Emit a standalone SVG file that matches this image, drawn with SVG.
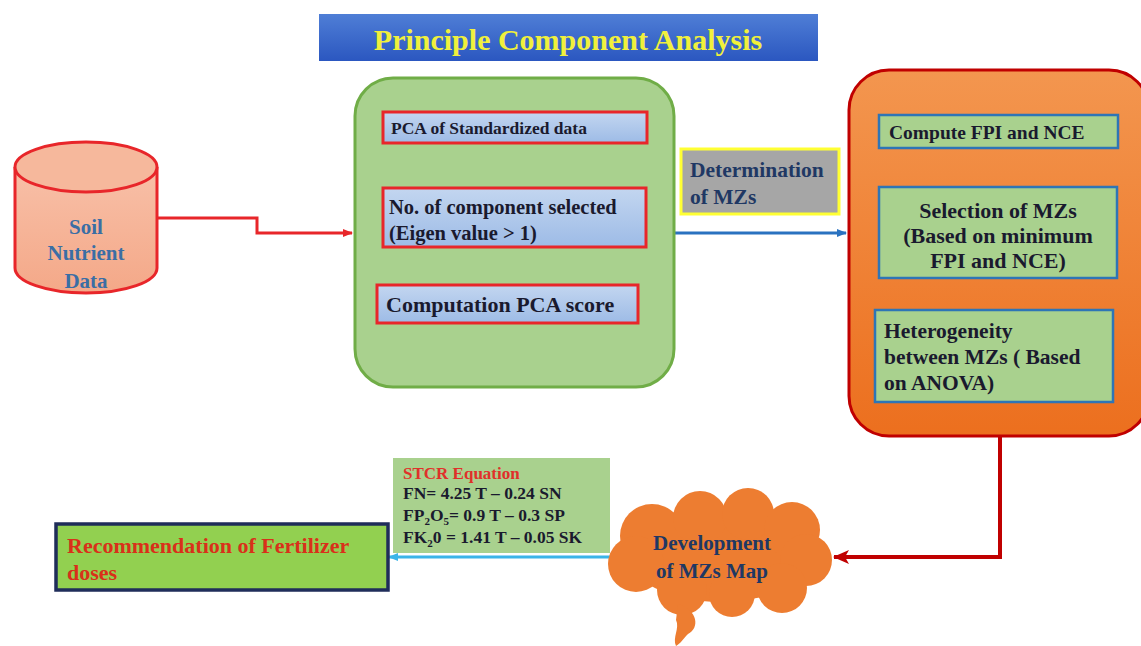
<svg xmlns="http://www.w3.org/2000/svg" width="1141" height="646" viewBox="0 0 1141 646">
<defs>
<linearGradient id="gTitle" x1="0" y1="0" x2="0" y2="1"><stop offset="0" stop-color="#4f7ed6"/><stop offset="1" stop-color="#2b57c0"/></linearGradient>
<linearGradient id="gBlue" x1="0" y1="0" x2="0" y2="1"><stop offset="0" stop-color="#c3d6f0"/><stop offset="1" stop-color="#9dbbe6"/></linearGradient>
<linearGradient id="gOrange" x1="0" y1="0" x2="0" y2="1"><stop offset="0" stop-color="#f3964f"/><stop offset="1" stop-color="#ec6f1e"/></linearGradient>
<linearGradient id="gCyl" x1="0" y1="0" x2="0" y2="1"><stop offset="0" stop-color="#f8c0a8"/><stop offset="1" stop-color="#f4a888"/></linearGradient>
<marker id="aRed" markerWidth="10" markerHeight="10" refX="9" refY="5" orient="auto" markerUnits="userSpaceOnUse"><path d="M0,1 L10,5 L0,9 Z" fill="#e8262a"/></marker>
<marker id="aBlue" markerWidth="10" markerHeight="10" refX="9" refY="5" orient="auto" markerUnits="userSpaceOnUse"><path d="M0,1 L10,5 L0,9 Z" fill="#2a72c0"/></marker>
<marker id="aDark" markerWidth="16" markerHeight="14" refX="15" refY="7" orient="auto" markerUnits="userSpaceOnUse"><path d="M0,0 L16,7 L0,14 L4,7 Z" fill="#c00000"/></marker>
<marker id="aCyan" markerWidth="10" markerHeight="10" refX="9" refY="5" orient="auto" markerUnits="userSpaceOnUse"><path d="M0,1 L10,5 L0,9 Z" fill="#3bb4e8"/></marker>
</defs>
<style>
text{font-family:"Liberation Serif","Times New Roman",serif;font-weight:bold;}
.inBlue{fill:url(#gBlue);stroke:#e8262a;stroke-width:3;}
.inGreen{fill:#a9d18e;stroke:#2e75b6;stroke-width:2.5;}
.dk{fill:#1a1a2e;}
.navy{fill:#1f3864;}
</style>
<rect width="1141" height="646" fill="#ffffff"/>

<g id="title">
<rect x="319" y="14" width="499" height="47" fill="url(#gTitle)"/>
<text x="568" y="50" text-anchor="middle" font-size="30" fill="#f0f03c">Principle Component Analysis</text>
</g>

<g id="connectors" fill="none">
<path d="M157,218 H257 V233 H352" stroke="#e8262a" stroke-width="3" marker-end="url(#aRed)"/>
<path d="M675,233 H846" stroke="#2a72c0" stroke-width="3" marker-end="url(#aBlue)"/>
<path d="M1000,437 V557 H834" stroke="#c00000" stroke-width="4" marker-end="url(#aDark)"/>
<path d="M612,557 H389" stroke="#3bb4e8" stroke-width="3" marker-end="url(#aCyan)"/>
</g>

<g id="soil">
<path d="M15,167 V268 A71,25 0 0 0 157,268 V167" fill="url(#gCyl)" stroke="#e8262a" stroke-width="3"/>
<ellipse cx="86" cy="167" rx="71" ry="25" fill="#f6b89c" stroke="#e8262a" stroke-width="3"/>
<text x="86" y="234" text-anchor="middle" font-size="21" fill="#3a6ea5">Soil</text>
<text x="86" y="260" text-anchor="middle" font-size="21" fill="#3a6ea5">Nutrient</text>
<text x="86" y="288" text-anchor="middle" font-size="21" fill="#3a6ea5">Data</text>
</g>

<g id="pca">
<rect x="355" y="78" width="319" height="309" rx="38" fill="#a9d18e" stroke="#70ad47" stroke-width="3"/>
<rect class="inBlue" x="383" y="112" width="264" height="31"/>
<text class="dk" x="391" y="134" font-size="17.5">PCA of Standardized data</text>
<rect class="inBlue" x="383" y="188" width="263" height="59"/>
<text class="dk" x="389" y="214" font-size="20.5">No. of component selected</text>
<text class="dk" x="389" y="240" font-size="20.5">(Eigen value &gt; 1)</text>
<rect class="inBlue" x="377" y="285" width="261" height="38"/>
<text class="dk" x="386" y="312" font-size="22">Computation  PCA score</text>
</g>

<g id="determination">
<rect x="681" y="149" width="158" height="65" fill="#a6a6a6" stroke="#ffff33" stroke-width="3"/>
<text class="navy" x="690" y="177" font-size="21.5">Determination</text>
<text class="navy" x="690" y="204" font-size="21.5">of MZs</text>
</g>

<g id="mz">
<rect x="849" y="70" width="300" height="366" rx="40" fill="url(#gOrange)" stroke="#c00000" stroke-width="3"/>
<rect class="inGreen" x="879" y="115" width="239" height="33"/>
<text class="dk" x="889" y="139" font-size="19.5">Compute FPI and NCE</text>
<rect class="inGreen" x="879" y="187" width="238" height="91"/>
<text class="dk" x="998" y="218" text-anchor="middle" font-size="22">Selection of MZs</text>
<text class="dk" x="998" y="243" text-anchor="middle" font-size="22">(Based on minimum</text>
<text class="dk" x="998" y="268" text-anchor="middle" font-size="22">FPI and NCE)</text>
<rect class="inGreen" x="875" y="310" width="238" height="92"/>
<text class="dk" x="884" y="338" font-size="21.5">Heterogeneity</text>
<text class="dk" x="884" y="364" font-size="21.5">between MZs ( Based</text>
<text class="dk" x="884" y="390" font-size="21.5">on ANOVA)</text>
</g>

<g id="stcr">
<rect x="393" y="458" width="217" height="95" fill="#a9d18e"/>
<text x="403" y="479" font-size="17" fill="#e0302a">STCR Equation</text>
<text class="dk" x="403" y="499" font-size="17.5">FN= 4.25 T – 0.24 SN</text>
<text class="dk" x="403" y="521" font-size="17.5">FP<tspan font-size="11" dy="4">2</tspan><tspan dy="-4">O</tspan><tspan font-size="11" dy="4">5</tspan><tspan dy="-4">= 0.9 T – 0.3 SP</tspan></text>
<text class="dk" x="403" y="543" font-size="17.5">FK<tspan font-size="11" dy="4">2</tspan><tspan dy="-4">0 = 1.41 T – 0.05 SK</tspan></text>
</g>

<g id="cloud" fill="#ed7d31">
<ellipse cx="720" cy="554" rx="92" ry="48"/>
<circle cx="652" cy="536" r="32"/>
<circle cx="700" cy="518" r="27"/>
<circle cx="748" cy="514" r="26"/>
<circle cx="792" cy="530" r="28"/>
<circle cx="806" cy="560" r="26"/>
<circle cx="782" cy="588" r="25"/>
<circle cx="732" cy="594" r="23"/>
<circle cx="682" cy="590" r="25"/>
<circle cx="636" cy="564" r="28"/>
<path d="M678,604 C698,610 700,628 688,634 C684,638 680,644 676,646 C672,638 680,628 676,620 Z"/>
<text class="navy" x="712" y="550" text-anchor="middle" font-size="21">Development</text>
<text class="navy" x="712" y="578" text-anchor="middle" font-size="21">of MZs  Map</text>
</g>

<g id="recommendation">
<rect x="56" y="524" width="332" height="66" fill="#92d050" stroke="#1f2d5a" stroke-width="3.5"/>
<text x="67" y="553" font-size="22" fill="#d9301a">Recommendation  of Fertilizer</text>
<text x="67" y="580" font-size="22" fill="#d9301a">doses</text>
</g>
</svg>
